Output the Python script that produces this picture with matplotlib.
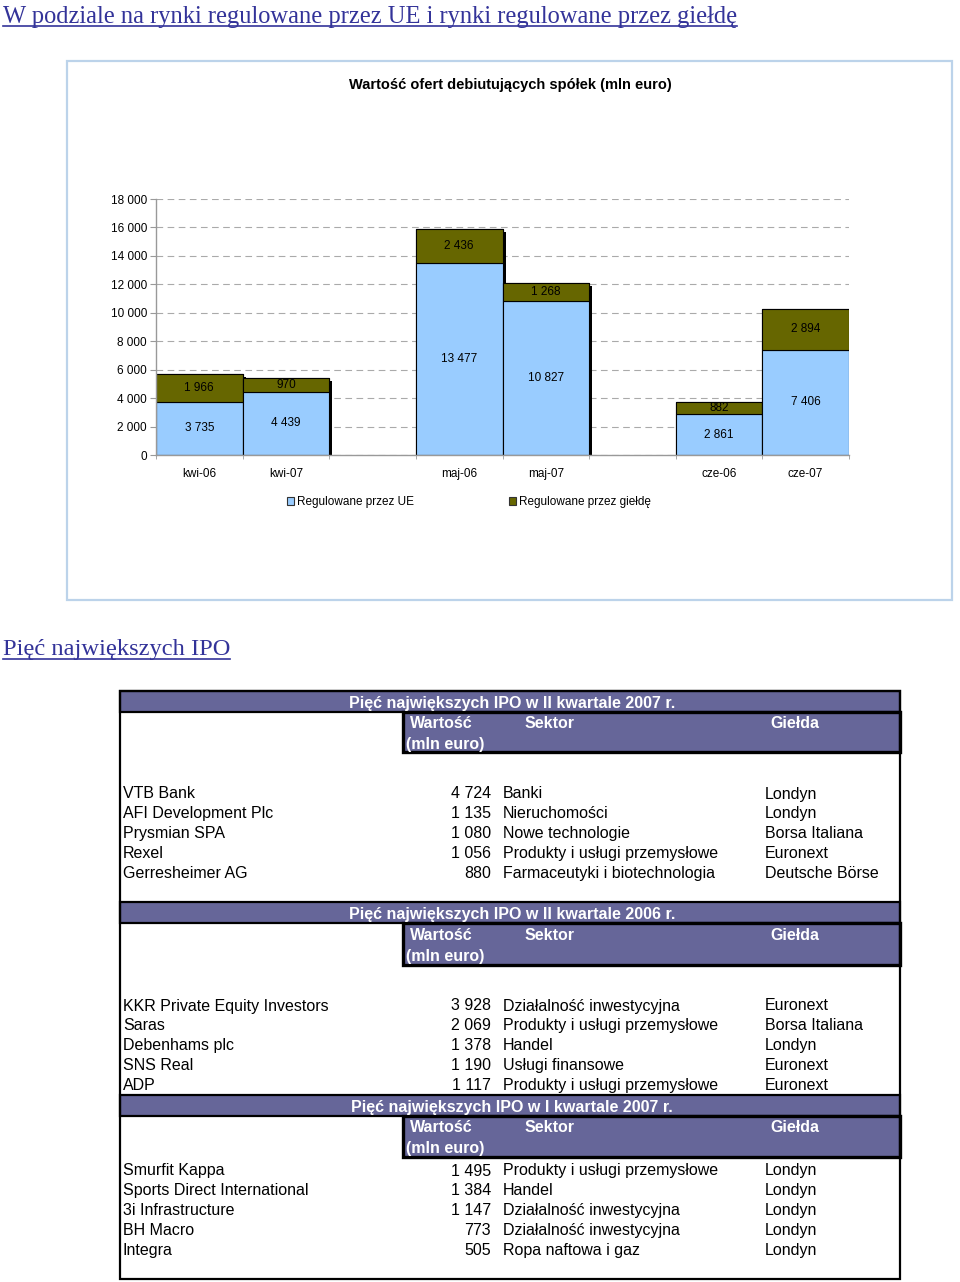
import matplotlib
matplotlib.use('Agg')
import matplotlib.pyplot as plt
import matplotlib.patheffects as pe
from matplotlib.patches import Rectangle, Patch
from matplotlib.ticker import FixedLocator

plt.rcParams['font.family'] = ['Liberation Sans', 'DejaVu Sans']

# ---------------- data ----------------
page_title = 'W podziale na rynki regulowane przez UE i rynki regulowane przez giełdę'
chart_title = 'Wartość ofert debiutujących spółek (mln euro)'
section_title = 'Pięć największych IPO'

categories = ['kwi-06', 'kwi-07', 'maj-06', 'maj-07', 'cze-06', 'cze-07']
ue_values = [3735, 4439, 13477, 10827, 2861, 7406]
gielda_values = [1966, 970, 2436, 1268, 882, 2894]
series_names = ['Regulowane przez UE', 'Regulowane przez giełdę']
y_ticks = [0, 2000, 4000, 6000, 8000, 10000, 12000, 14000, 16000, 18000]

col_headers = ['Wartość', '(mln euro)', 'Sektor', 'Giełda']

t1_title = 'Pięć największych IPO w II kwartale 2007 r.'
t1_names = ['VTB Bank', 'AFI Development Plc', 'Prysmian SPA', 'Rexel', 'Gerresheimer AG']
t1_values = [4724, 1135, 1080, 1056, 880]
t1_sectors = ['Banki', 'Nieruchomości', 'Nowe technologie',
              'Produkty i usługi przemysłowe', 'Farmaceutyki i biotechnologia']
t1_exchanges = ['Londyn', 'Londyn', 'Borsa Italiana', 'Euronext', 'Deutsche Börse']

t2_title = 'Pięć największych IPO w II kwartale 2006 r.'
t2_names = ['KKR Private Equity Investors', 'Saras', 'Debenhams plc', 'SNS Real', 'ADP']
t2_values = [3928, 2069, 1378, 1190, 1117]
t2_sectors = ['Działalność inwestycyjna', 'Produkty i usługi przemysłowe', 'Handel',
              'Usługi finansowe', 'Produkty i usługi przemysłowe']
t2_exchanges = ['Euronext', 'Borsa Italiana', 'Londyn', 'Euronext', 'Euronext']

t3_title = 'Pięć największych IPO w I kwartale 2007 r.'
t3_names = ['Smurfit Kappa', 'Sports Direct International', '3i Infrastructure', 'BH Macro', 'Integra']
t3_values = [1495, 1384, 1147, 773, 505]
t3_sectors = ['Produkty i usługi przemysłowe', 'Handel', 'Działalność inwestycyjna',
              'Działalność inwestycyjna', 'Ropa naftowa i gaz']
t3_exchanges = ['Londyn', 'Londyn', 'Londyn', 'Londyn', 'Londyn']


def fmt(v):
    return f'{v:,}'.replace(',', ' ')


# ---------------- figure ----------------
W, H = 960, 1282
fig = plt.figure(figsize=(W / 100, H / 100), dpi=100)
ov = fig.add_axes([0, 0, 1, 1], zorder=0)
ov.set_xlim(0, W)
ov.set_ylim(H, 0)
ov.axis('off')

link_color = '#333399'
blue = '#99ccff'
olive = '#666600'
purple = '#666699'

# page titles (serif, underlined)
def underlined(x, y, s, target_w):
    t = ov.text(x, y, s, family=['Liberation Serif', 'DejaVu Serif'], fontsize=16,
                color=link_color, ha='left', va='center')
    fig.canvas.draw()
    bb = t.get_window_extent(fig.canvas.get_renderer())
    t.set_fontsize(16 * target_w / bb.width)
    fig.canvas.draw()
    bb = t.get_window_extent(fig.canvas.get_renderer())
    x0, x1 = bb.x0, bb.x1
    ybase = H - bb.y0
    ov.plot([x0, x1], [ybase - 2, ybase - 2], color=link_color, lw=1.2)

underlined(3, 16.5, page_title, 735)
underlined(3, 650, section_title, 227)

# chart frame
ov.add_patch(Rectangle((67, 61), 885, 539, fill=False, ec='#bcd3ea', lw=1.6))
ov.text(510, 85, chart_title, ha='center', va='center', fontsize=10.5, weight='bold')

# ---------------- bar chart ----------------
ax_l, ax_r, ax_b, ax_t = 156, 849, 455, 199
ax = fig.add_axes([ax_l / W, 1 - ax_b / H, (ax_r - ax_l) / W, (ax_b - ax_t) / H], zorder=1)
ax.patch.set_visible(False)

positions = [i + i // 2 for i in range(len(categories))]
shadow = [pe.SimplePatchShadow(offset=(2.2, -2.2), shadow_rgbFace='black', alpha=1.0), pe.Normal()]
for i, x in enumerate(positions):
    total = ue_values[i] + gielda_values[i]
    bs = ax.bar(x, total, width=1.0, color=olive, edgecolor='black', lw=0.8)
    for p in bs.patches:
        p.set_path_effects(shadow)
    ax.bar(x, ue_values[i], width=1.0, color=blue, edgecolor='black', lw=0.8,
           label=series_names[0] if i == 0 else None)
    ax.bar(x, gielda_values[i], bottom=ue_values[i], width=1.0, color=olive,
           edgecolor='black', lw=0.8, label=series_names[1] if i == 0 else None)
    ax.text(x, ue_values[i] / 2, fmt(ue_values[i]), ha='center', va='center', fontsize=8.5, zorder=5)
    ax.text(x, ue_values[i] + gielda_values[i] / 2, fmt(gielda_values[i]), ha='center',
            va='center', fontsize=8.5, zorder=5)

ax.set_xlim(-0.5, max(positions) + 0.5)
ax.set_ylim(0, max(y_ticks))
ax.set_yticks(y_ticks)
ax.set_yticklabels([fmt(v) for v in y_ticks])
ax.set_xticks(positions)
ax.set_xticklabels(categories)
ax.xaxis.set_minor_locator(FixedLocator([k - 0.5 for k in range(max(positions) + 2)]))
ax.tick_params(axis='y', length=4, color='#999999', pad=2.5, labelsize=8.5)
ax.tick_params(axis='x', which='major', length=0, pad=9.7, labelsize=8.5)
ax.tick_params(axis='x', which='minor', length=3, color='#999999')
for s in ('top', 'right'):
    ax.spines[s].set_visible(False)
for s in ('left', 'bottom'):
    ax.spines[s].set_color('#999999')
    ax.spines[s].set_linewidth(1.0)
ax.set_axisbelow(True)
ax.yaxis.grid(True, linestyle=(0, (6, 4)), color='#aaaaaa', lw=0.8)

handles = [Patch(facecolor=blue, edgecolor='#333333', lw=0.8),
           Patch(facecolor=olive, edgecolor='#333333', lw=0.8)]
ov.legend(handles, series_names, loc='center', bbox_to_anchor=(469, 502),
          bbox_transform=ov.transData, ncol=2, frameon=False, fontsize=8.5,
          handlelength=0.6, handleheight=0.6, handletextpad=0.3, columnspacing=8.0)

# ---------------- tables ----------------
TX0, TX1 = 120, 900
ov.add_patch(Rectangle((TX0, 691), TX1 - TX0, 1279 - 691, fill=False, ec='black', lw=1.6, zorder=4))
DY = 2  # text baseline correction

def draw_table(top, sub_h, row_start, title, names, values, sectors, exchanges):
    ov.add_patch(Rectangle((TX0, top), TX1 - TX0, 21, fc=purple, ec='black', lw=1.6, zorder=2))
    ov.text(512, top + 10.5 + DY, title, ha='center', va='center', color='white',
            weight='bold', fontsize=11.5, zorder=5)
    ov.add_patch(Rectangle((403, top + 21), TX1 - 403, sub_h, fc=purple, ec='black',
                           lw=2.4, zorder=3))
    ov.text(410, top + 31 + DY, col_headers[0], ha='left', va='center', color='white',
            weight='bold', fontsize=11.5, zorder=5)
    ov.text(406, top + 52 + DY, col_headers[1], ha='left', va='center', color='white',
            weight='bold', fontsize=11.5, zorder=5)
    ov.text(525, top + 31 + DY, col_headers[2], ha='left', va='center', color='white',
            weight='bold', fontsize=11.5, zorder=5)
    ov.text(770, top + 31 + DY, col_headers[3], ha='left', va='center', color='white',
            weight='bold', fontsize=11.5, zorder=5)
    for i in range(len(names)):
        y = row_start + i * 19.85 + DY
        ov.text(123, y, names[i], ha='left', va='center', fontsize=11.5)
        ov.text(491, y, fmt(values[i]), ha='right', va='center', fontsize=11.5)
        ov.text(503, y, sectors[i], ha='left', va='center', fontsize=11.5)
        ov.text(765, y, exchanges[i], ha='left', va='center', fontsize=11.5)

draw_table(691, 40, 792, t1_title, t1_names, t1_values, t1_sectors, t1_exchanges)
draw_table(902, 42, 1004, t2_title, t2_names, t2_values, t2_sectors, t2_exchanges)
draw_table(1095, 41, 1169, t3_title, t3_names, t3_values, t3_sectors, t3_exchanges)

fig.savefig('out.png', dpi=100)
